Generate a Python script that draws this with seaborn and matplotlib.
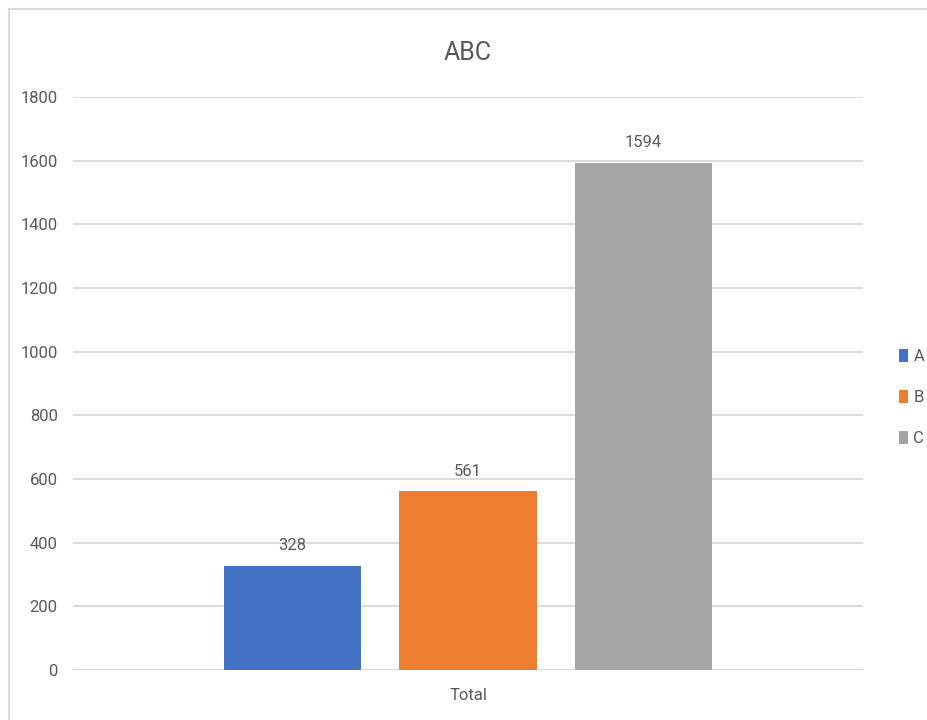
import pandas as pd
import matplotlib.pyplot as plt
import seaborn as sns
from matplotlib.patches import Rectangle

# values
categories = ['Total']
series = ['A', 'B', 'C']
values = [328, 561, 1594]
colors = ['#4472C4', '#ED7D31', '#A5A5A5']
y_ticks = [0, 200, 400, 600, 800, 1000, 1200, 1400, 1600, 1800]

df = pd.DataFrame({'category': categories * len(series), 'series': series, 'value': values})

sns.set_style('white')
plt.rcParams['font.family'] = ['Roboto', 'DejaVu Sans']
text_color = '#595959'

fig = plt.figure(figsize=(9.27, 7.2), dpi=100)
ax = fig.add_axes([73 / 927, 1 - 670 / 720, 790 / 927, 573 / 720])

sns.barplot(data=df, x='category', y='value', hue='series', palette=colors,
            width=0.667, gap=0.22, saturation=1, linewidth=0, ax=ax, legend=True)

ax.set_ylim(0, 1800)
ax.set_xlim(-0.5, 0.5)
ax.set_yticks(y_ticks)
ax.tick_params(axis='y', length=0, pad=11, labelsize=12, labelcolor=text_color)
ax.tick_params(axis='x', length=0, pad=13, labelsize=12, labelcolor=text_color)
ax.set_xlabel('')
ax.set_ylabel('')
ax.grid(axis='y', color='#D9D9D9', linewidth=1.3)
ax.set_axisbelow(True)
for s in ax.spines.values():
    s.set_visible(False)

# data labels above bars
for cont in ax.containers:
    ax.bar_label(cont, padding=9, fontsize=12, color=text_color)

ax.set_title('ABC', fontsize=18, color=text_color, pad=27)

leg = ax.legend(loc='center left', bbox_to_anchor=(1.027, 0.475), frameon=False,
                fontsize=12, handlelength=0.55, handleheight=0.8, handletextpad=0.3,
                labelspacing=1.55, labelcolor=text_color)

# outer chart border (right and bottom cut off as in the reference)
fig.patches.append(Rectangle((9 / 927, -0.05), 1.1, 1 - 9 / 720 + 0.05,
                             transform=fig.transFigure, fill=False,
                             edgecolor='#D9D9D9', linewidth=1.5))

fig.savefig('out.png', dpi=100)
